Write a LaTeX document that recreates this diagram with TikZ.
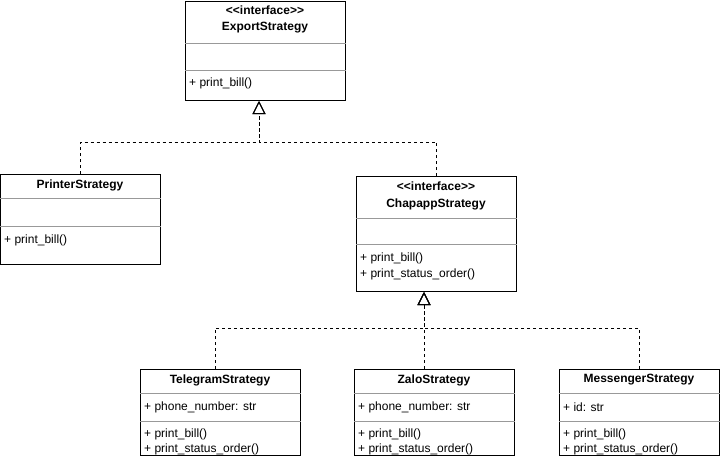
\documentclass[tikz,border=0pt]{standalone}
\usepackage{fontspec}
\setmainfont{Liberation Sans}
\usetikzlibrary{arrows.meta,calc}
\newcommand{\stereo}[1]{<\kern0pt<#1>\kern0pt>}
\begin{document}
\begin{tikzpicture}[x=1pt,y=-1pt,
  cls/.style={draw, line width=1pt, inner sep=0pt, anchor=north west, minimum width=160pt},
  sepline/.style={draw=black!40, line width=1pt},
  hd/.style={font=\bfseries\fontsize{12}{14}\selectfont, inner sep=0pt},
  mem/.style={font=\fontsize{12}{14}\selectfont, inner sep=0pt, anchor=west},
  realize/.style={line width=1pt, dash pattern=on 3pt off 3pt, -{Triangle[open,length=13pt,width=13pt]}}]
\useasboundingbox (0,0) rectangle (721,461);
% boxes
\node[cls, minimum height=99pt] (export) at (185,1) {};
\node[cls, minimum height=90pt] (printer) at (0,174) {};
\node[cls, minimum height=115pt] (chapapp) at (356,176) {};
\node[cls, minimum height=86pt] (telegram) at (140,369) {};
\node[cls, minimum height=86pt] (zalo) at (354,369) {};
\node[cls, minimum height=86pt] (messenger) at (559,369) {};
% separators
\draw[sepline] ($(export.north west)+(0,42)$) -- ($(export.north east)+(0,42)$);
\draw[sepline] ($(export.north west)+(0,69)$) -- ($(export.north east)+(0,69)$);
\draw[sepline] ($(printer.north west)+(0,24)$) -- ($(printer.north east)+(0,24)$);
\draw[sepline] ($(printer.north west)+(0,52)$) -- ($(printer.north east)+(0,52)$);
\draw[sepline] ($(chapapp.north west)+(0,42)$) -- ($(chapapp.north east)+(0,42)$);
\draw[sepline] ($(chapapp.north west)+(0,68)$) -- ($(chapapp.north east)+(0,68)$);
\foreach \b in {telegram,zalo,messenger}{
  \draw[sepline] ($(\b.north west)+(0,24)$) -- ($(\b.north east)+(0,24)$);
  \draw[sepline] ($(\b.north west)+(0,52)$) -- ($(\b.north east)+(0,52)$);
}
% texts
\node[hd] (e1) at (265,10) {\stereo{interface}};
\node[hd] (e2) at (265,28) {ExportStrategy};
\node[mem] (e3) at (189,83) {+ print\_bill()};
\node[hd] (p1) at (80,185) {PrinterStrategy};
\node[mem] (p2) at (4,240) {+ print\_bill()};
\node[hd] (c1) at (436,186) {\stereo{interface}};
\node[hd] (c2) at (436,204) {ChapappStrategy};
\node[mem] (c3) at (360,258) {+ print\_bill()};
\node[mem] (c4) at (360,274) {+ print\_status\_order()};
\node[hd] (t1) at (220,380) {TelegramStrategy};
\node[mem] (t2) at (144,407) {+ phone\_number: str};
\node[mem] (t3) at (144,434) {+ print\_bill()};
\node[mem] (t4) at (144,449) {+ print\_status\_order()};
\node[hd] (z1) at (434,380) {ZaloStrategy};
\node[mem] (z2) at (358,407) {+ phone\_number: str};
\node[mem] (z3) at (358,434) {+ print\_bill()};
\node[mem] (z4) at (358,449) {+ print\_status\_order()};
\node[hd] (m1) at (639,380) {MessengerStrategy};
\node[mem] (m2) at (563,407) {+ id: str};
\node[mem] (m3) at (563,434) {+ print\_bill()};
\node[mem] (m4) at (563,449) {+ print\_status\_order()};
% connectors
\coordinate (j1) at (259,142);
\coordinate (j2) at (424,328);
\coordinate (exportin) at ($(export.south west)+(74,0)$);
\coordinate (chapin) at ($(chapapp.south west)+(68,0)$);
\draw[realize] (printer.north) |- (j1) -- (exportin);
\draw[realize] (chapapp.north) |- (j1) -- (exportin);
\draw[realize] ($(telegram.north west)+(75,0)$) |- (j2) -- (chapin);
\draw[realize] ($(zalo.north west)+(70,0)$) -- (chapin);
\draw[realize] ($(messenger.north west)+(80,0)$) |- (j2) -- (chapin);
\end{tikzpicture}
\end{document}
